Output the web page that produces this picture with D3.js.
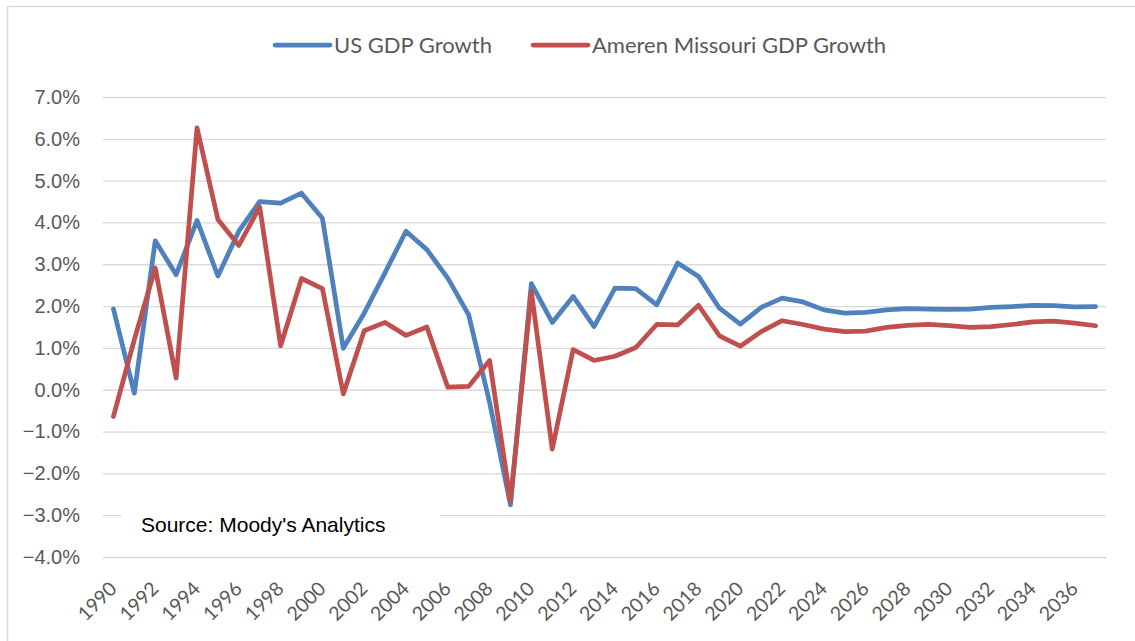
<!DOCTYPE html>
<html>
<head>
<meta charset="utf-8">
<script src="https://cdn.jsdelivr.net/npm/d3@7"></script>
<style>
  html, body { margin: 0; padding: 0; background: #fff; }
  svg { display: block; }
</style>
</head>
<body>
<div id="chart"></div>
<script>
const years = [1990, 1991, 1992, 1993, 1994, 1995, 1996, 1997, 1998, 1999,
  2000, 2001, 2002, 2003, 2004, 2005, 2006, 2007, 2008, 2009,
  2010, 2011, 2012, 2013, 2014, 2015, 2016, 2017, 2018, 2019,
  2020, 2021, 2022, 2023, 2024, 2025, 2026, 2027, 2028, 2029,
  2030, 2031, 2032, 2033, 2034, 2035, 2036, 2037];

const usGrowth = [1.93, -0.08, 3.56, 2.75, 4.05, 2.72, 3.79, 4.5, 4.46, 4.7,
  4.1, 0.99, 1.83, 2.8, 3.79, 3.35, 2.67, 1.79, -0.3, -2.75,
  2.54, 1.61, 2.23, 1.51, 2.43, 2.42, 2.03, 3.03, 2.71, 1.95,
  1.57, 1.97, 2.19, 2.1, 1.91, 1.83, 1.85, 1.91, 1.94, 1.93,
  1.92, 1.93, 1.97, 1.99, 2.02, 2.01, 1.98, 1.99];

const moGrowth = [-0.64, 1.2, 2.91, 0.28, 6.26, 4.07, 3.45, 4.37, 1.05, 2.66,
  2.42, -0.1, 1.41, 1.61, 1.3, 1.5, 0.06, 0.08, 0.7, -2.67,
  2.35, -1.42, 0.96, 0.7, 0.8, 1.01, 1.56, 1.55, 2.02, 1.29,
  1.04, 1.39, 1.65, 1.56, 1.45, 1.39, 1.4, 1.49, 1.54, 1.56,
  1.53, 1.49, 1.51, 1.56, 1.62, 1.64, 1.59, 1.53];

const yTicks = [-4, -3, -2, -1, 0, 1, 2, 3, 4, 5, 6, 7];
const xTickYears = [1990, 1992, 1994, 1996, 1998, 2000, 2002, 2004, 2006, 2008,
  2010, 2012, 2014, 2016, 2018, 2020, 2022, 2024, 2026, 2028,
  2030, 2032, 2034, 2036];

const seriesNames = ["US GDP Growth", "Ameren Missouri GDP Growth"];
const seriesColors = ["#4F81BD", "#C0504D"];

const width = 1135;
const height = 641;
const plot = { left: 103, right: 1106, top: 97, bottom: 557 };

const svg = d3.select("#chart")
  .append("svg")
  .attr("width", width)
  .attr("height", height);

// chart area border
svg.append("rect")
  .attr("x", 7.5)
  .attr("y", 6.5)
  .attr("width", width)
  .attr("height", height)
  .attr("fill", "#fff")
  .attr("stroke", "#d9d9d9")
  .attr("stroke-width", 1.5);

const xScale = d3.scalePoint()
  .domain(years)
  .range([plot.left, plot.right])
  .padding(0.5);

const yScale = d3.scaleLinear()
  .domain([-4, 7])
  .range([plot.bottom, plot.top]);

// gridlines + y labels
const yAxis = d3.axisLeft(yScale)
  .tickValues(yTicks)
  .tickSize(-(plot.right - plot.left))
  .tickPadding(23)
  .tickFormat((d) => d3.format(".1f")(d) + "%");

const yGroup = svg.append("g")
  .attr("transform", `translate(${plot.left},0)`)
  .call(yAxis);
yGroup.select(".domain").remove();
yGroup.selectAll(".tick line")
  .attr("stroke", "#d9d9d9")
  .attr("stroke-width", 1.3);
yGroup.selectAll(".tick text")
  .attr("fill", "#595959")
  .style("font-family", "'Liberation Sans', Arial, sans-serif")
  .style("font-size", "20px");

// x labels, rotated
const xGroup = svg.append("g");
xGroup.selectAll("text")
  .data(xTickYears)
  .enter()
  .append("text")
  .attr("transform", (d) => `translate(${xScale(d) + 4.5},590) rotate(-45)`)
  .attr("text-anchor", "end")
  .attr("fill", "#595959")
  .style("font-family", "Lato, 'Open Sans', sans-serif")
  .style("font-size", "19.5px")
  .text((d) => d);

// source note box
svg.append("rect")
  .attr("x", 121)
  .attr("y", 500)
  .attr("width", 319)
  .attr("height", 45)
  .attr("fill", "#fff");
svg.append("text")
  .attr("x", 141)
  .attr("y", 532)
  .attr("fill", "#000")
  .style("font-family", "'Liberation Sans', Arial, sans-serif")
  .style("font-size", "21px")
  .text("Source: Moody's Analytics");

// lines
const line = d3.line()
  .x((d, i) => xScale(years[i]))
  .y((d) => yScale(d));

[usGrowth, moGrowth].forEach((values, k) => {
  svg.append("path")
    .datum(values)
    .attr("fill", "none")
    .attr("stroke", seriesColors[k])
    .attr("stroke-width", 4.75)
    .attr("stroke-linejoin", "round")
    .attr("stroke-linecap", "round")
    .attr("d", line);
});

// legend
const legendPos = [275, 533];
const legend = svg.append("g");
seriesNames.forEach((name, k) => {
  const g = legend.append("g")
    .attr("transform", `translate(${legendPos[k]},45)`);
  g.append("line")
    .attr("x1", 0)
    .attr("x2", 55)
    .attr("stroke", seriesColors[k])
    .attr("stroke-width", 4.75)
    .attr("stroke-linecap", "round");
  g.append("text")
    .attr("x", 59)
    .attr("dy", "0.35em")
    .attr("fill", "#595959")
    .style("font-family", "Lato, 'Open Sans', sans-serif")
    .style("font-size", "22px")
    .text(name);
});
</script>
</body>
</html>
